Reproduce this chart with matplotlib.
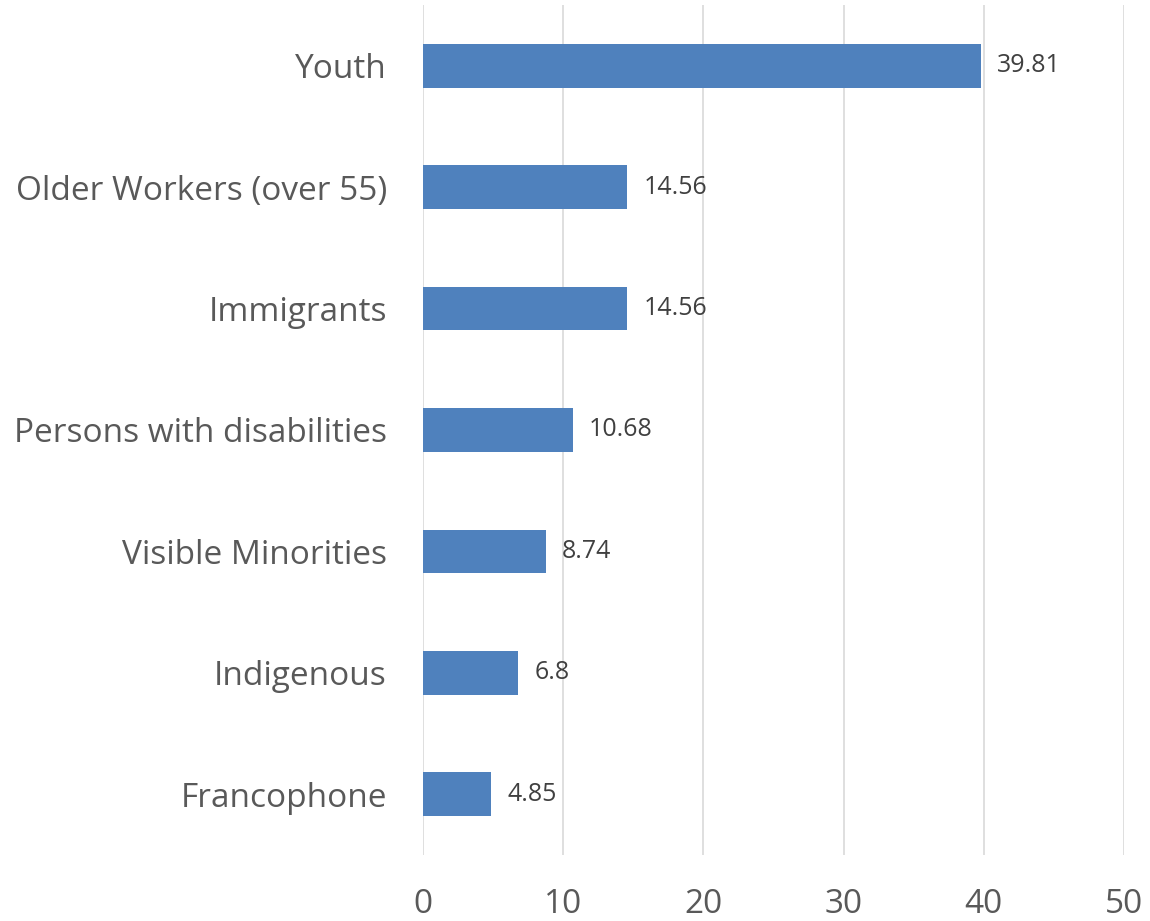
import matplotlib
matplotlib.use("Agg")
import matplotlib.pyplot as plt

categories = ["Youth", "Older Workers (over 55)", "Immigrants", "Persons with disabilities",
              "Visible Minorities", "Indigenous", "Francophone"]
values = [39.81, 14.56, 14.56, 10.68, 8.74, 6.8, 4.85]
labels = ["39.81", "14.56", "14.56", "10.68", "8.74", "6.8", "4.85"]
xticks = [0, 10, 20, 30, 40, 50]

plt.rcParams['font.family'] = ['Open Sans', 'DejaVu Sans']
fig = plt.figure(figsize=(11.5, 9.21), dpi=100)
ax = fig.add_axes([0.3678, 0.0717, 0.6096, 0.9229])

ypos = list(range(len(categories)))
ax.barh(ypos, values, height=0.36, color="#4F81BD", zorder=3)
for y, v, t in zip(ypos, values, labels):
    ax.text(v + 1.15, y, t, va="center", ha="left", fontsize=18, color="#404040")

ax.set_xlim(0, 50)
ax.set_ylim(len(categories) - 0.5, -0.5)
ax.set_yticks(ypos)
ax.set_yticklabels(categories, fontsize=24, color="#595959")
ax.set_xticks(xticks)
ax.set_xticklabels([str(x) for x in xticks], fontsize=24, color="#595959")
ax.tick_params(axis="both", length=0)
ax.tick_params(axis="x", pad=24)
ax.tick_params(axis="y", pad=26)
ax.grid(axis="x", color="#D9D9D9", linewidth=1.2, zorder=0)
for s in ax.spines.values():
    s.set_visible(False)

fig.savefig("out.png", dpi=100)
